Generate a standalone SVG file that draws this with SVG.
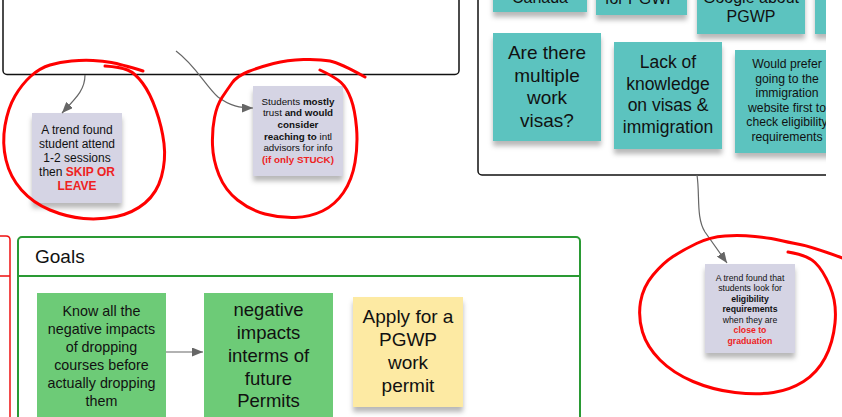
<svg xmlns="http://www.w3.org/2000/svg" width="842" height="417" viewBox="0 0 842 417">
<defs>
<style>
text{font-family:"Liberation Sans",Arial,sans-serif;text-anchor:middle;fill:#111}
.b{font-weight:bold}
.r{fill:#ee2222;font-weight:bold}
.frame{fill:#fff;stroke:#111;stroke-width:1.5}
.teal{fill:#5bc3bf}
.lav{fill:#d5d4e4}
.grn{fill:#6dcb77}
.yel{fill:#fdeaa3}
.conn{fill:none;stroke:#666;stroke-width:1.2}
.ink{fill:none;stroke:#ff0000;stroke-width:3;stroke-linecap:round;stroke-linejoin:round}
</style>
<filter id="sh" x="-10%" y="-10%" width="120%" height="130%">
<feDropShadow dx="0" dy="5" stdDeviation="2.5" flood-color="#000" flood-opacity="0.28"/>
</filter>
<marker id="ah" markerUnits="userSpaceOnUse" markerWidth="11" markerHeight="9" refX="11" refY="4.5" orient="auto">
<path d="M0,0 L11,4.5 L0,9 z" fill="#666"/>
</marker>
<clipPath id="rc"><rect x="0" y="0" width="826" height="417"/></clipPath>
</defs>
<rect width="842" height="417" fill="#fff"/>

<g id="frame-top-left"><rect class="frame" x="3" y="-10" width="456" height="84.5" rx="4"/></g>

<g id="frame-right" clip-path="url(#rc)">
<rect class="frame" x="478" y="-10" width="400" height="185" rx="4"/>
<g id="n-canada"><rect class="teal" filter="url(#sh)" x="493" y="-60" width="94" height="72"/><text x="540" y="2.5" font-size="16">Canada</text></g>
<g id="n-forpgwp"><rect class="teal" filter="url(#sh)" x="596" y="-60" width="91" height="75"/><text x="641" y="3.5" font-size="16">for PGWP</text></g>
<g id="n-google"><rect class="teal" filter="url(#sh)" x="697" y="-60" width="108" height="94"/><text x="751" y="2.5" font-size="16">Google about</text><text x="751" y="21.5" font-size="16">PGWP</text></g>
<g id="n-d"><rect class="teal" filter="url(#sh)" x="815" y="-60" width="60" height="94"/></g>
<g id="n-multiple"><rect class="teal" filter="url(#sh)" x="493" y="33" width="108" height="108"/>
<text font-size="19"><tspan x="547" y="59">Are there</tspan><tspan x="547" y="81.5">multiple</tspan><tspan x="547" y="104">work</tspan><tspan x="547" y="126.5">visas?</tspan></text></g>
<g id="n-lack"><rect class="teal" filter="url(#sh)" x="614" y="42" width="108" height="107"/>
<text font-size="17.5"><tspan x="668" y="68">Lack of</tspan><tspan x="668" y="89.5">knowledge</tspan><tspan x="668" y="111">on visas &amp;</tspan><tspan x="668" y="132.5">immigration</tspan></text></g>
<g id="n-prefer"><rect class="teal" filter="url(#sh)" x="735" y="50" width="108" height="103"/>
<text font-size="12.2"><tspan x="787" y="68">Would prefer</tspan><tspan x="787" y="82.5">going to the</tspan><tspan x="787" y="97">immigration</tspan><tspan x="787" y="111.5">website first to</tspan><tspan x="787" y="126">check eligibility</tspan><tspan x="787" y="140.5">requirements</tspan></text></g>
</g>

<g id="frame-red-left"><path d="M-5,236 H6 Q10,236 10,240 V420 M-5,276 H10" fill="none" stroke="#ee1111" stroke-width="1.5"/></g>

<g id="frame-goals">
<rect x="18" y="237" width="562" height="200" rx="4" fill="#fff" stroke="#2a9a34" stroke-width="2"/>
<line x1="18" y1="276" x2="580" y2="276" stroke="#2a9a34" stroke-width="2"/>
<text x="35" y="263" font-size="19" style="text-anchor:start">Goals</text>
</g>

<g id="n-know"><rect class="grn" x="37" y="293" width="129" height="130"/>
<text font-size="14.3"><tspan x="101.5" y="316">Know all the</tspan><tspan x="101.5" y="334">negative impacts</tspan><tspan x="101.5" y="352">of dropping</tspan><tspan x="101.5" y="370">courses before</tspan><tspan x="101.5" y="388">actually dropping</tspan><tspan x="101.5" y="406">them</tspan></text></g>
<g id="n-negative"><rect class="grn" x="204" y="293" width="129" height="130"/>
<text font-size="18.5"><tspan x="268.5" y="316">negative</tspan><tspan x="268.5" y="339">impacts</tspan><tspan x="268.5" y="362">interms of</tspan><tspan x="268.5" y="384.5">future</tspan><tspan x="268.5" y="407">Permits</tspan></text></g>
<g id="n-apply"><rect class="yel" filter="url(#sh)" x="353" y="297" width="110" height="110"/>
<text font-size="19"><tspan x="408" y="323">Apply for a</tspan><tspan x="408" y="346">PGWP</tspan><tspan x="408" y="369">work</tspan><tspan x="408" y="392">permit</tspan></text></g>

<g id="n-trend1"><rect class="lav" filter="url(#sh)" x="32" y="113" width="90" height="90"/>
<text font-size="12"><tspan x="77" y="134">A trend found</tspan><tspan x="77" y="148">student attend</tspan><tspan x="77" y="161.5">1-2 sessions</tspan><tspan x="77" y="175.5">then <tspan class="r">SKIP OR</tspan></tspan><tspan x="77" y="189.5" class="r">LEAVE</tspan></text></g>
<g id="n-students"><rect class="lav" filter="url(#sh)" x="253" y="86" width="90" height="90"/>
<text font-size="9.8"><tspan x="298" y="104.5">Students <tspan class="b">mostly</tspan></tspan><tspan x="298" y="116">trust <tspan class="b">and would</tspan></tspan><tspan x="298" y="127.8" class="b">consider</tspan><tspan x="298" y="139.5"><tspan class="b">reaching to</tspan> intl</tspan><tspan x="298" y="151">advisors for info</tspan><tspan x="298" y="163" class="r">(if only STUCK)</tspan></text></g>
<g id="n-trend3"><rect class="lav" filter="url(#sh)" x="705" y="264" width="90" height="89"/>
<text font-size="8.7"><tspan x="750" y="280.5">A trend found that</tspan><tspan x="750" y="291">students look for</tspan><tspan x="750" y="301.5" class="b">eligibility</tspan><tspan x="750" y="312" class="b">requirements</tspan><tspan x="750" y="322.5">when they are</tspan><tspan x="750" y="333" class="r">close to</tspan><tspan x="750" y="343.5" class="r">graduation</tspan></text></g>

<g id="connectors">
<path class="conn" d="M85,75 C85,90 76,98 62,113" marker-end="url(#ah)"/>
<path class="conn" d="M176,51 C195,65 205,85 218,97 C230,106 240,108 253,108" marker-end="url(#ah)"/>
<path class="conn" d="M697,175 C700,195 696,218 705,232 L727,263" marker-end="url(#ah)"/>
<path class="conn" d="M166,352 H203" marker-end="url(#ah)"/>
</g>

<g id="annotations">
<path class="ink" d="M143,71 Q120,64 111.5,62.5 Q103,61 93,60.5 Q83,60 71.5,61 Q60,62 50,65 Q40,68 31,76 Q22,84 15,96 Q8,108 5,125.5 Q2,143 6,160 Q10,177 21.5,190 Q33,203 50,210 Q67,217 83.5,218.5 Q100,220 116.5,216.5 Q133,213 145,203 Q157,193 161.5,176.5 Q166,160 164,143.5 Q162,127 156,110 Q150,93 142.5,83 Q135,73 127.5,70 Q120,67 105,66"/>
<path class="ink" d="M320,70 Q335,77 341,82.5 Q347,88 351,99 Q355,110 356.5,127.5 Q358,145 355,162.5 Q352,180 343.5,192.5 Q335,205 322.5,211 Q310,217 295,217.5 Q280,218 265,214 Q250,210 237.5,200 Q225,190 219,175 Q213,160 212.5,145 Q212,130 214.5,117.5 Q217,105 222,97.5 Q227,90 232,83 Q237,76 248.5,71.5 Q260,67 273.5,63.5 Q287,60 303.5,59.5 Q320,59 330,61 Q340,63 365,77"/>
<path class="ink" d="M788,252 Q807,255 815,262.5 Q823,270 830,286.5 Q837,303 835,323 Q833,343 825,358 Q817,373 803.5,381.5 Q790,390 773.5,392.5 Q757,395 735,392.5 Q713,390 693,381.5 Q673,373 660,360 Q647,347 642.5,332 Q638,317 640.5,302 Q643,287 653,275 Q663,263 673,256.5 Q683,250 696.5,243.5 Q710,237 725,236 Q740,235 755,236.5 Q770,238 778.5,240 Q787,242 800,244.5 Q813,247 845,259"/>
</g>
</svg>
